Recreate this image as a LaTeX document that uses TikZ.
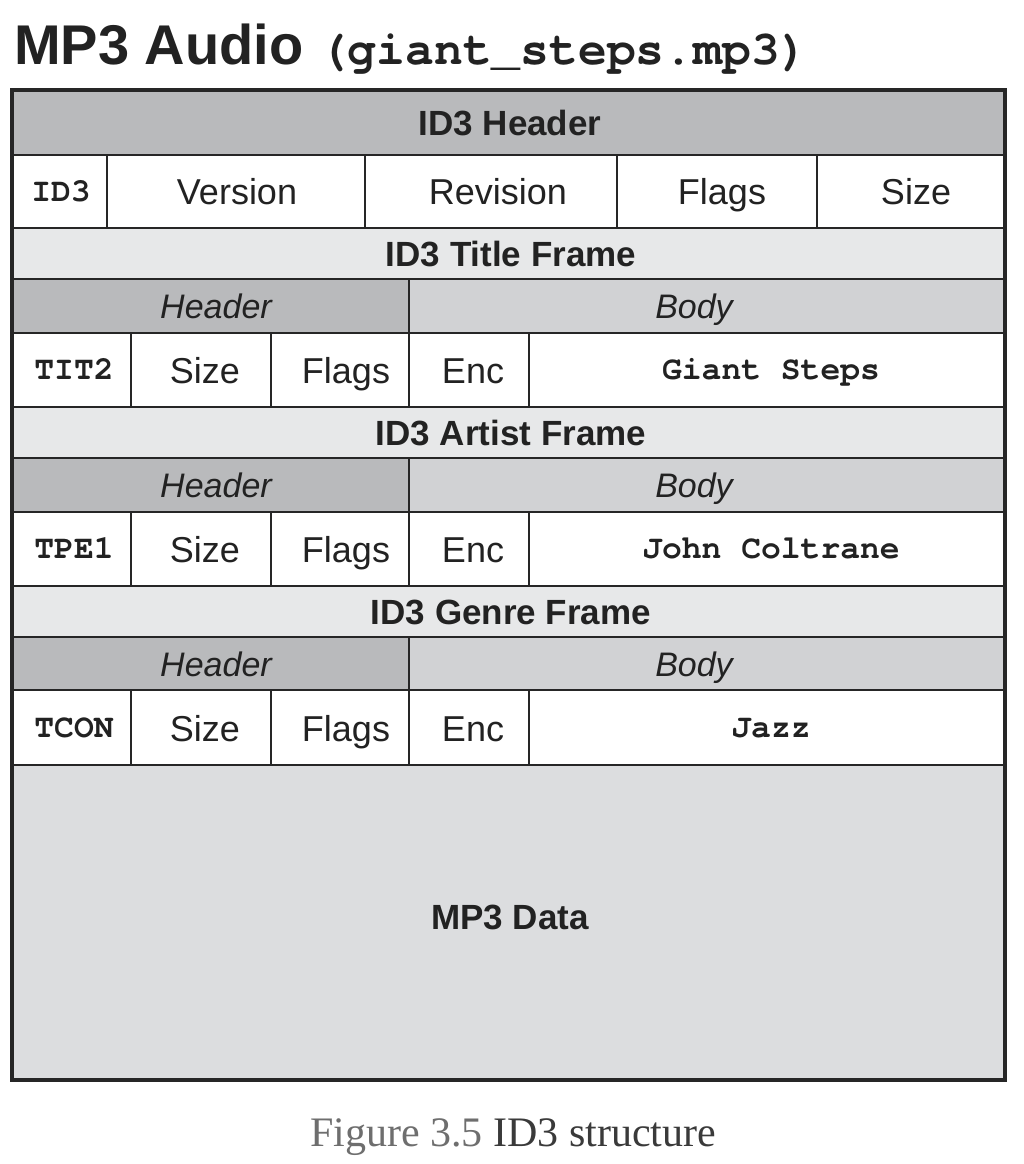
\documentclass[tikz,border=0pt]{standalone}
\usepackage{fontspec}
\setmainfont{Liberation Sans}
\newfontfamily\monob{texgyrecursor}[Extension=.otf, UprightFont=*-regular, BoldFont=*-bold]
\newfontfamily\capfont{Liberation Serif}
\definecolor{hdr}{HTML}{B9BABC}
\definecolor{frm}{HTML}{E7E8E9}
\definecolor{bdy}{HTML}{D1D2D4}
\definecolor{dat}{HTML}{DCDDDF}
\definecolor{ln}{HTML}{262626}
\definecolor{txt}{HTML}{222222}
\definecolor{capg}{HTML}{6E6E6E}
\definecolor{capd}{HTML}{3A3A3A}
\tikzset{
  rlbl/.style={inner sep=0pt, text=txt, text height=26pt, text depth=0pt, font=\fontsize{36}{40}\selectfont},
  blbl/.style={inner sep=0pt, text=txt, text height=25pt, text depth=0pt, font=\fontsize{35}{40}\selectfont\bfseries},
  ilbl/.style={inner sep=0pt, text=txt, text height=24.5pt, text depth=0pt, font=\fontsize{34}{40}\selectfont\itshape},
  mlbl/.style={inner sep=0pt, text=txt, text height=19pt, text depth=0pt, font=\monob\fontsize{33}{40}\selectfont\bfseries},
  grid/.style={draw=ln, line width=2.6pt},
}
\begin{document}
\begin{tikzpicture}[x=1pt, y=-1pt]
\useasboundingbox (0,0) rectangle (1024,1164);
\fill[white] (0,0) rectangle (1024,1164);
% title
\node[anchor=base west, inner sep=0pt, text=txt] (title) at (14,64)
  {\fontsize{56}{60}\selectfont\bfseries MP3 Audio {\monob\fontsize{48}{52}\selectfont\bfseries (giant\_steps.mp3)}};
% fills
\fill[hdr] (12,90) rectangle (1005,155);
\fill[white] (12,155) rectangle (1005,228);
\foreach \y in {228,407,586}{
  \fill[frm] (12,\y) rectangle (1005,\y+51);
  \fill[hdr] (12,\y+51) rectangle (409,\y+105);
  \fill[bdy] (409,\y+51) rectangle (1005,\y+105);
  \fill[white] (12,\y+105) rectangle (1005,\y+179);
}
\fill[dat] (12,765) rectangle (1005,1080);
% grid lines
\foreach \y in {155,228,279,333,407,458,512,586,637,690,765}
  \draw[grid] (12,\y) -- (1005,\y);
\foreach \x in {107,365,617,817}
  \draw[grid] (\x,155) -- (\x,228);
\foreach \y in {228,407,586}{
  \draw[grid] (409,\y+51) -- (409,\y+179);
  \foreach \x in {131,271,529}
    \draw[grid] (\x,\y+105) -- (\x,\y+179);
}
\draw[draw=ln, line width=4pt] (12,90) rectangle (1005,1080);
% ID3 header texts
\node[blbl] (id3hdr) at (510,122.5) {ID3 Header};
\node[mlbl] (id3) at (61,191.5) {ID3};
\node[rlbl] (ver) at (237,191.5) {Version};
\node[rlbl] (rev) at (498,191.5) {Revision};
\node[rlbl] (hflags) at (722,191.5) {Flags};
\node[rlbl] (hsize) at (916,191.5) {Size};
% frames
\foreach \y/\ttl/\code/\val/\k in {228/Title/TIT2/Giant Steps/1, 407/Artist/TPE1/John Coltrane/2, 586/Genre/TCON/Jazz/3}{
  \node[blbl] (frame\k) at (511,\y+25.5) {ID3 \ttl\ Frame};
  \node[ilbl] (fhdr\k) at (216,\y+78) {Header};
  \node[ilbl] (fbody\k) at (694,\y+78) {Body};
  \node[mlbl] (code\k) at (74,\y+142) {\code};
  \node[rlbl] (size\k) at (205,\y+142) {Size};
  \node[rlbl] (flags\k) at (346,\y+142) {Flags};
  \node[rlbl] (enc\k) at (473,\y+142) {Enc};
  \node[mlbl] (val\k) at (771,\y+142) {\val};
}
\node[blbl] (mp3) at (510,917) {MP3 Data};
% caption
\node[anchor=base, inner sep=0pt, font=\capfont\fontsize{42}{46}\selectfont] (cap) at (513,1146)
  {\textcolor{capg}{Figure 3.5} \textcolor{capd}{ID3 structure}};
\end{tikzpicture}
\end{document}
